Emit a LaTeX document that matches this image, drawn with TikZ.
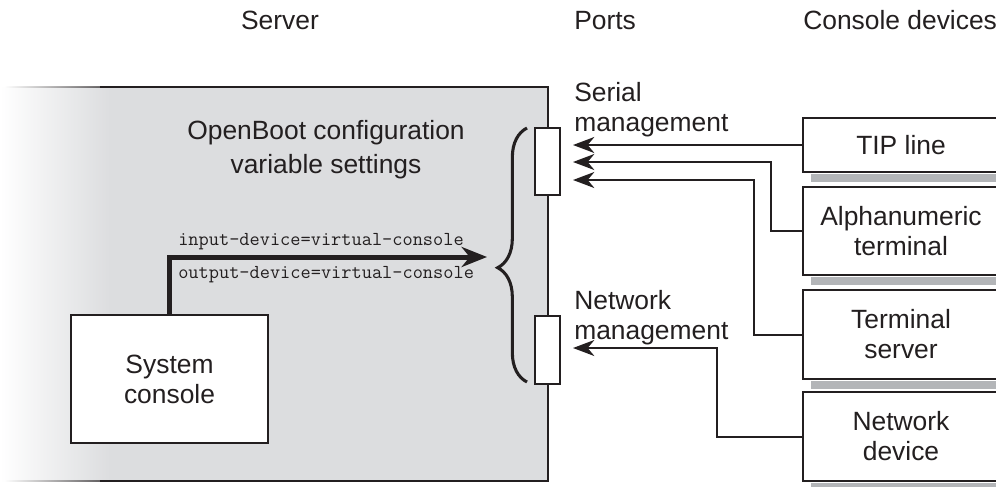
\documentclass[tikz,border=0pt]{standalone}
\usepackage{fontspec}
\setmainfont{Liberation Sans}
\usetikzlibrary{arrows.meta,calc,decorations.pathreplacing}
\definecolor{ink}{HTML}{231F20}
\definecolor{srvgray}{HTML}{DCDDDF}
\definecolor{shdgray}{HTML}{B3B5B8}
\newcommand\lblfont{\fontsize{19.8pt}{22.5pt}\selectfont}
\newcommand\varfont{\fontsize{14.85pt}{16pt}\selectfont\ttfamily}
\begin{document}
\begin{tikzpicture}[x=0.75pt,y=-0.75pt]
\tikzset{
lbl/.style={font=\lblfont,text=ink,inner sep=0pt},
devbox/.style={draw=ink,line width=1.1pt,fill=white,minimum width=147pt,align=center,font=\lblfont,text=ink},
portbox/.style={draw=ink,line width=0.8pt,fill=white,minimum width=18.75pt,inner sep=0pt},
link/.style={draw=ink,line width=1.5pt,-{Stealth[length=16pt,width=12pt,inset=5pt]}},
}
\useasboundingbox (0,0) rectangle (996,486);
\shade[left color=white,right color=srvgray] (0,87) rectangle (110,481);
\fill[srvgray] (110,87) rectangle (548,481);
\shade[left color=white,right color=ink] (4,86.3) rectangle (100,87.7) (4,480.3) rectangle (100,481.7);
\draw[ink,line width=1.1pt] (100,87)--(548,87)--(548,481)--(100,481);
\node[portbox,minimum height=50.25pt] (serial) at (547.5,161.5) {};
\node[portbox,minimum height=51pt] (netport) at (547.5,350) {};
\draw[ink,line width=2.3pt,decorate,decoration={brace,amplitude=22pt,aspect=0.45}] (527,382)--(527,128);
\node[lbl,anchor=base] (hsrv) at (280,29) {Server};
\node[lbl,anchor=base west] (hport) at (574,29) {Ports};
\node[lbl,anchor=base west] (hdev) at (803,29) {Console devices};
\node[lbl,anchor=north west,align=left] (lser) at (574,82) {Serial\\management};
\node[lbl,anchor=north west,align=left] (lnet) at (574,290) {Network\\management};
\node[lbl,anchor=north,align=center] (cfgtxt) at (326,120) {OpenBoot configuration\\[3pt]variable settings};
\node[devbox,minimum width=147.75pt,minimum height=96pt] (sc) at (169.5,379) {System\\console};
\node[anchor=base west,inner sep=0pt,font=\varfont,text=ink] (inv) at (178,245) {input-device=virtual-console};
\node[anchor=base west,inner sep=0pt,font=\varfont,text=ink] (outv) at (178,278) {output-device=virtual-console};
\coordinate (cfgin) at (487,257);
\draw[ink,line width=3.75pt,-{Stealth[length=19pt,width=15pt,inset=6pt]}] (sc.north) |- (cfgin);
\foreach \n/\yc/\h/\t in {tip/145/40.5/{TIP line},alpha/231/66/{Alphanumeric\\terminal},term/334.5/67/{Terminal\\server},ndev/436.5/67/{Network\\device}}{
\node[devbox,minimum height=\h pt] (\n) at (901,\yc) {\t};
\fill[shdgray] ($(\n.south west)+(9,1)$) rectangle ($(\n.south east)+(0,9)$);
}
\coordinate (p1) at (573,145);
\coordinate (p2) at (573,162);
\coordinate (p3) at (573,180);
\coordinate (p4) at (573,348);
\draw[link] (tip.west)--(p1);
\draw[link] (alpha.west)--++(-31,0) |- (p2);
\draw[link] (term.west)--++(-48,0) |- (p3);
\draw[link] (ndev.west)--++(-85,0) |- (p4);
\end{tikzpicture}
\end{document}
